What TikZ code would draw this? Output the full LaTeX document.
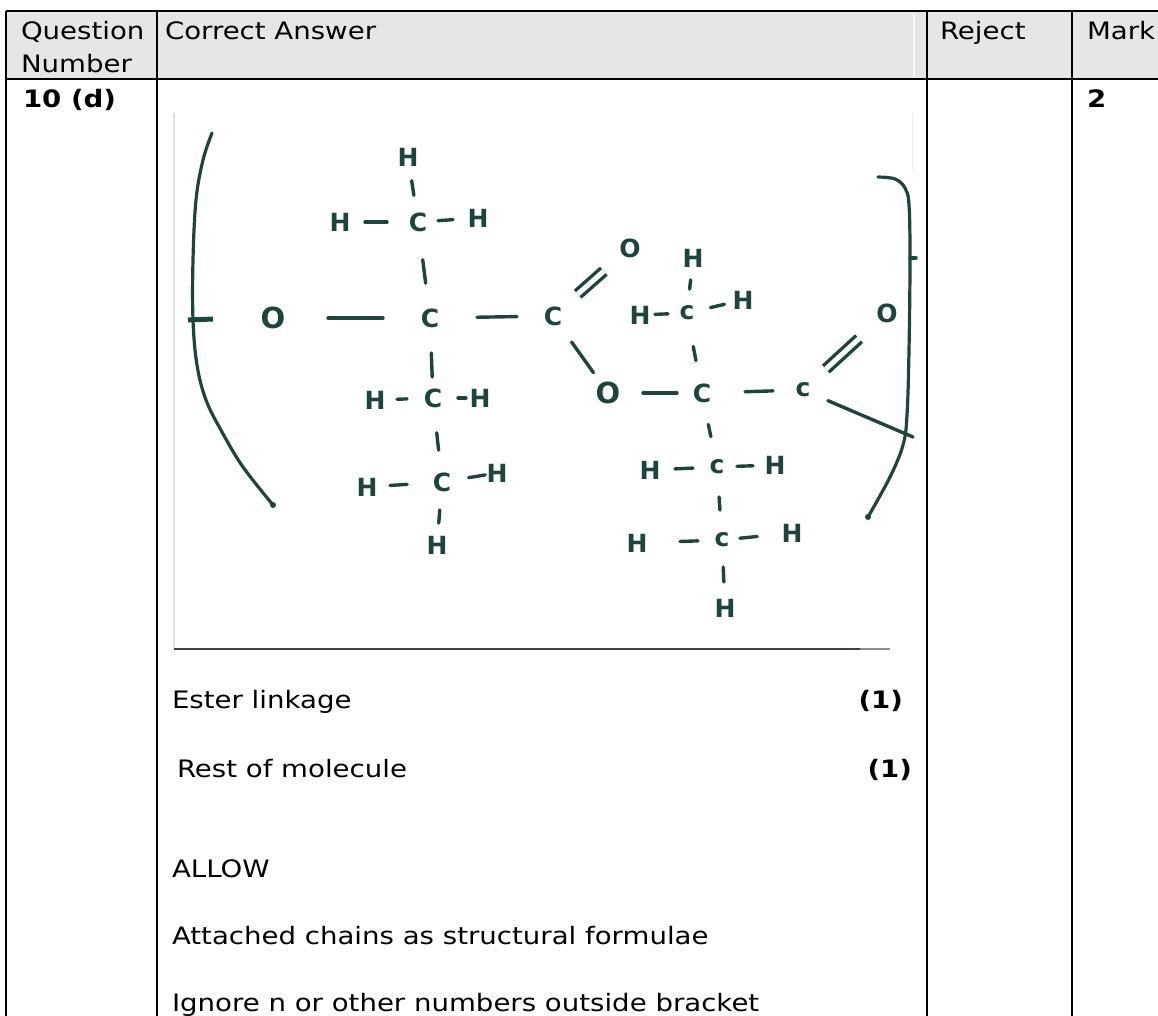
\documentclass[tikz,border=0pt]{standalone}
\usepackage{fontspec}
\setmainfont{DejaVu Sans}[FakeStretch=1.15]
\newfontfamily\chemfam{DejaVu Sans Bold}
\usetikzlibrary{calc}
\definecolor{ink}{RGB}{30,68,62}
\definecolor{hdr}{RGB}{230,230,230}
\definecolor{framebot}{RGB}{58,68,68}
\newcommand\tabfont{\fontsize{24}{29}\selectfont}
\newcommand\chemfont{\chemfam\fontsize{25}{30}\selectfont}
\newcommand\chemfontO{\chemfam\fontsize{29}{34}\selectfont}
\tikzset{
  txt/.style={anchor=base west, inner sep=0pt, outer sep=0pt, font=\tabfont},
  txtb/.style={txt, font=\tabfont\bfseries},
  rule/.style={line width=2.6pt, black},
  atom/.style={inner sep=0pt, outer sep=0pt, text=ink, font=\chemfont},
  oatom/.style={atom, font=\chemfontO},
  bondline/.style={line width=3.4pt, ink, line cap=round},
  dbond/.style={bondline, line cap=butt, double=white, double distance=5pt},
  bracketline/.style={line width=3.2pt, ink, line cap=round, line join=round},
}
\newcommand\chbond[5][]{\draw[bondline,#1] ($(#2.center)!#4pt!(#3.center)$) -- ($(#3.center)!#5pt!(#2.center)$);}
\begin{document}
\begin{tikzpicture}[x=1pt,y=-1pt]
\useasboundingbox (0,0) rectangle (1158,1015);
% ---------- table ----------
\fill[hdr] (6,11) rectangle (1162,79);
\draw[line width=1.5pt, white!94!gray] (914,13) -- (914,77);
\draw[rule] (6,11) -- (1162,11);
\draw[rule] (6,79) -- (1162,79);
\draw[rule] (6,11) -- (6,1018);
\draw[rule] (157,11) -- (157,1018);
\draw[rule] (927,11) -- (927,1018);
\draw[rule] (1072,11) -- (1072,1018);

\node[txt] (hq) at (21,39) {Question};
\node[txt] (hn) at (21,72) {Number};
\node[txt] (hc) at (165,39) {Correct Answer};
\node[txt] (hr) at (940,39) {Reject};
\node[txt] (hm) at (1087,39) {Mark};
\node[txtb] (qn) at (23,107) {10 (d)};
\node[txtb] (mk) at (1087,107) {2};

\node[txt] (t1) at (172,708) {Ester linkage};
\node[txtb, anchor=base east] (m1) at (903,708) {(1)};
\node[txt] (t2) at (177,777) {Rest of molecule};
\node[txtb, anchor=base east] (m2) at (912,777) {(1)};
\node[txt] (t3) at (172,877) {ALLOW};
\node[txt] (t4) at (172,944) {Attached chains as structural formulae};
\node[txt] (t5) at (172,1011) {Ignore n or other numbers outside bracket};

% ---------- scanned picture frame ----------
\draw[line width=1.2pt, black!12] (174,113) -- (174,648);
\draw[line width=1pt, black!8] (912,113) -- (912,170);
\draw[line width=2pt, framebot] (174,648.5) -- (860,648.5);
\draw[line width=2pt, framebot!60] (860,648.5) -- (890,648.5);

% ---------- atoms ----------
\node[oatom] (O1) at (273,318) {O};
\node[atom] (C1) at (430,318) {C};
\node[atom] (C2) at (553,316) {C};
\node[atom] (Ct) at (418,222) {C};
\node[atom] (Hta) at (408,157) {H};
\node[atom] (Htl) at (340,222) {H};
\node[atom] (Htr) at (478,218) {H};
\node[atom] (Cb1) at (433,398) {C};
\node[atom] (Hb1l) at (375,400) {H};
\node[atom] (Hb1r) at (480,398) {H};
\node[atom] (Cb2) at (442,482) {C};
\node[atom] (Hb2l) at (367,487) {H};
\node[atom] (Hb2r) at (497,473) {H};
\node[atom] (Hb2d) at (437,545) {H};
\node[atom] (O2) at (630,248) {O};
\node[oatom] (O3) at (608,393) {O};
\node[atom] (C3) at (702,393) {C};
\node[atom] (Cm) at (687,313) {c};
\node[atom] (Hmt) at (693,258) {H};
\node[atom] (Hml) at (640,315) {H};
\node[atom] (Hmr) at (743,300) {H};
\node[atom] (C4) at (803,390) {c};
\node[atom] (O4) at (887,313) {O};
\node[atom] (Cd1) at (717,467) {c};
\node[atom] (Hd1l) at (650,470) {H};
\node[atom] (Hd1r) at (775,465) {H};
\node[atom] (Cd2) at (722,540) {c};
\node[atom] (Hd2l) at (637,543) {H};
\node[atom] (Hd2r) at (792,533) {H};
\node[atom] (Hd2d) at (725,608) {H};

% ---------- bonds ----------
\chbond{O1}{C1}{55}{47}
\chbond{C1}{C2}{47}{36}
\chbond{Hta}{Ct}{24}{27}
\chbond{Htl}{Ct}{25}{31}
\chbond{Ct}{Htr}{20}{25}
\chbond{Ct}{C1}{38}{35}
\chbond{C1}{Cb1}{35}{21}
\chbond{Hb1l}{Cb1}{22}{26}
\chbond{Cb1}{Hb1r}{25}{14}
\chbond{Cb1}{Cb2}{35}{32}
\chbond{Hb2l}{Cb2}{23}{35}
\chbond{Cb2}{Hb2r}{27}{12}
\chbond{Cb2}{Hb2d}{28}{22}
\chbond[dbond]{C2}{O2}{33}{35}
\chbond{C2}{O3}{32}{25}
\chbond{O3}{C3}{35}{25}
\chbond{C3}{C4}{43}{30}
\chbond[dbond]{C4}{O4}{31}{38}
\chbond{Hmt}{Cm}{22}{24}
\chbond{Hml}{Cm}{15}{19}
\chbond{Cm}{Hmr}{24}{19}
\chbond{Cm}{C3}{34}{33}
\chbond{C3}{Cd1}{32}{31}
\chbond{Cd1}{Cd2}{30}{30}
\chbond{Hd1l}{Cd1}{25}{24}
\chbond{Cd1}{Hd1r}{20}{22}
\chbond{Hd2l}{Cd2}{43}{24}
\chbond{Cd2}{Hd2r}{18}{35}
\chbond{Cd2}{Hd2d}{27}{26}

% ---------- brackets ----------
\coordinate (rb) at (913,437);
\draw[bondline] ($(C4.center)!27pt!(rb)$) -- (rb);
\draw[bracketline] plot[smooth, tension=0.6] coordinates {(212,133) (203,160) (196,200) (193,260) (193,320) (197,365) (206,400) (222,432) (243,467) (273,505)};
\fill[ink] (273,505) circle (3pt);
\draw[line width=5pt, ink] (188,320) -- (213,319);
\draw[bracketline] plot[smooth, tension=0.6] coordinates {(878,177) (895,179) (905,188) (909,205) (910,260) (909,350) (907,415) (903,445) (890,477) (868,517)};
\fill[ink] (868,517) circle (3pt);
\draw[bondline] (910,258) -- (916,258);
\end{tikzpicture}
\end{document}
